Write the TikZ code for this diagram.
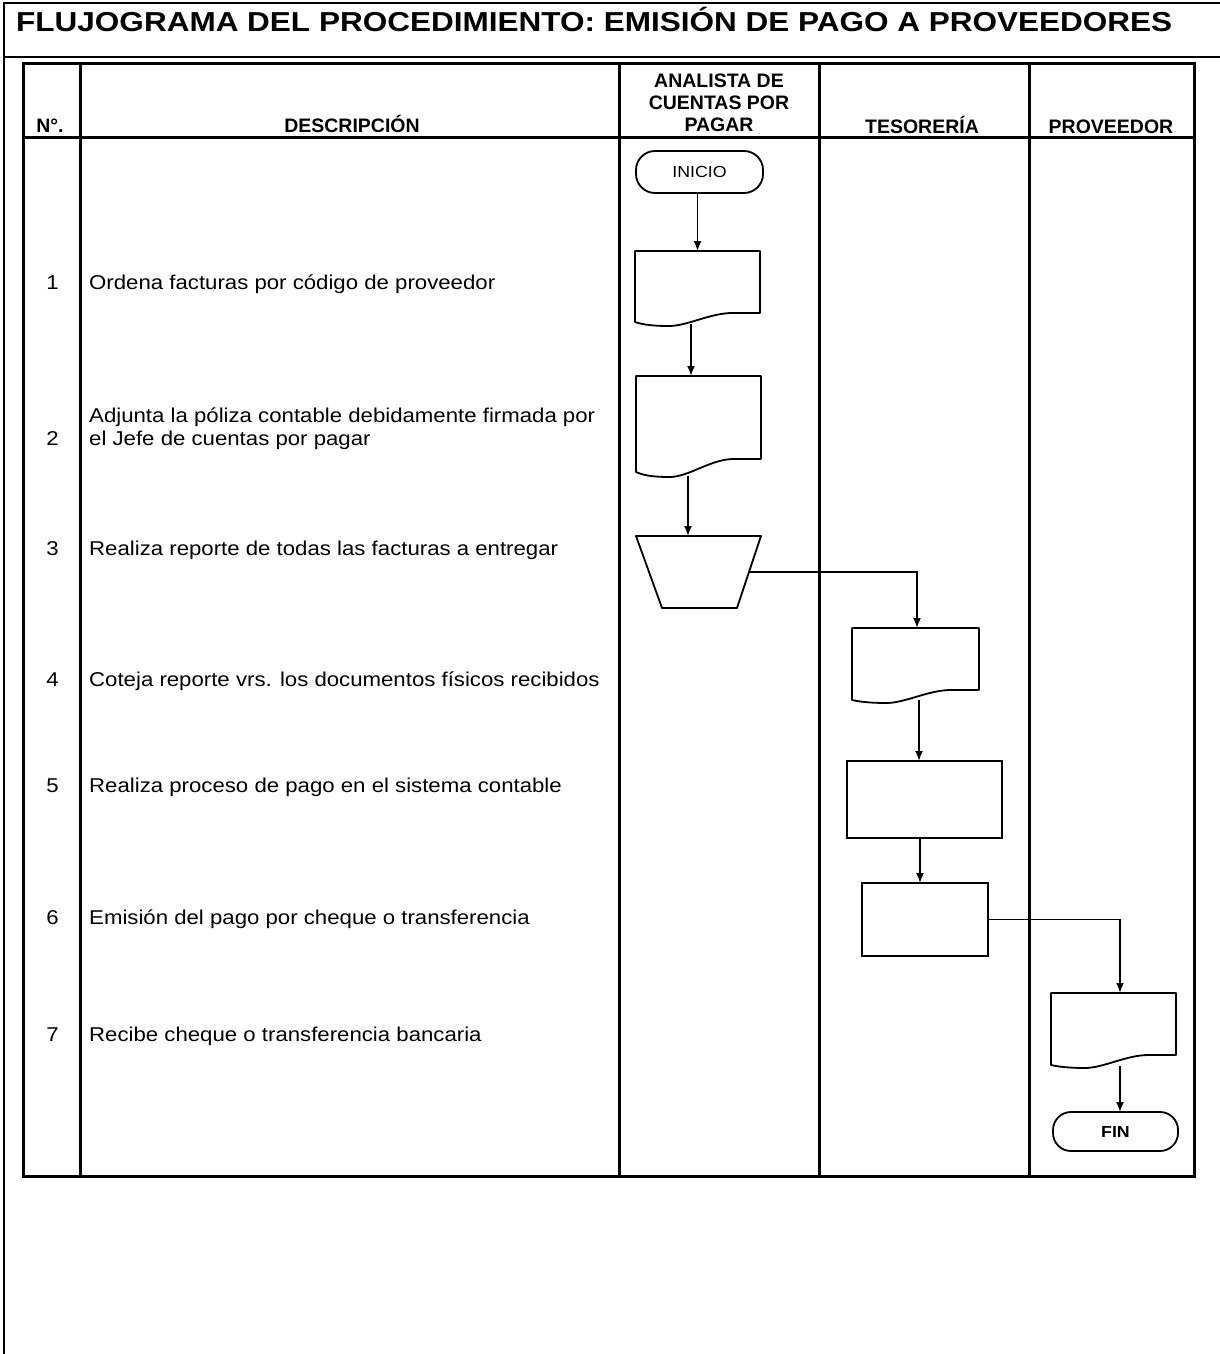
\documentclass[tikz,border=0pt]{standalone}
\usepackage{fontspec}
\setmainfont{Liberation Sans}
\newfontfamily\titlefont[FakeStretch=1.15]{Liberation Sans}
\newfontfamily\descfont[FakeStretch=1.11]{Liberation Sans}
\usetikzlibrary{calc,arrows.meta}

% Outline of a document symbol over a blank node: #1 node, #2 lift of the
% left bottom corner, #3 lift of the right bottom corner.
\newcommand\docoutline[3]{%
  \draw[outline] (#1.north west) -- (#1.north east) -- ($(#1.south east)+(0,-#3)$)
    -- ($(#1.south west)!0.78!(#1.south east)+(0,-#3)$)
    .. controls ($(#1.south west)!0.6!(#1.south east)+(0,-#3)$)
            and ($(#1.south west)!0.42!(#1.south east)$)
    .. ($(#1.south west)!0.27!(#1.south east)$)
    .. controls ($(#1.south west)!0.16!(#1.south east)$)
            and ($(#1.south west)!0.07!(#1.south east)+(0,-1)$)
    .. ($(#1.south west)+(0,-#2)$) -- cycle;}

\begin{document}
\begin{tikzpicture}[x=1pt,y=-1pt,
  grid/.style={line width=3pt},
  frame/.style={line width=1.5pt},
  outline/.style={line width=1.8pt, line join=round},
  blank/.style={inner sep=0pt, outer sep=0pt},
  shp/.style={draw, line width=1.8pt, inner sep=0pt, outer sep=0pt},
  conn/.style={line width=1.8pt, -{Latex[length=10pt,width=8pt]}},
  hdr/.style={font=\bfseries\fontsize{19.5}{21.5}\selectfont, inner sep=0pt, anchor=base},
  num/.style={font=\descfont\fontsize{20}{24}\selectfont, inner sep=0pt, anchor=base},
  desc/.style={font=\descfont\fontsize{20}{24}\selectfont, inner sep=0pt, anchor=base west},
  term/.style={shp, rounded corners=19pt}
]
\useasboundingbox (0,0) rectangle (1220,1354);

% page frame and title band
\draw[frame] (1220,3) -- (4,3) -- (4,1354);
\draw[frame] (4,57) -- (1220,57);
\node[inner sep=0pt, anchor=base west, font=\titlefont\bfseries\fontsize{27.4}{30}\selectfont]
  (title) at (16,32) {FLUJOGRAMA DEL PROCEDIMIENTO: EMISIÓN DE PAGO A PROVEEDORES};

% table grid
\draw[grid] (23,64) rectangle (1194,1176);
\draw[grid] (23,137.5) -- (1194,137.5);
\foreach \x in {80.5,619.5,819,1029} \draw[grid] (\x,64) -- (\x,1176);

% column headings
\node[hdr] (hnum) at (50,132) {N°.};
\node[hdr] (hdesc) at (352,132) {DESCRIPCIÓN};
\node[hdr] (hana1) at (719,88) {ANALISTA DE};
\node[hdr] (hana2) at (719,109.5) {CUENTAS POR};
\node[hdr] (hana3) at (719,131) {PAGAR};
\node[hdr] (htes) at (922,133) {TESORERÍA};
\node[hdr] (hprov) at (1111,133) {PROVEEDOR};

% step numbers and descriptions
\node[num] (n1) at (52.5,289) {1};
\node[desc] (d1) at (89,289) {Ordena facturas por código de proveedor};
\node[num] (n2) at (52.5,445) {2};
\node[desc] (d2a) at (89,422) {Adjunta la póliza contable debidamente firmada por};
\node[desc] (d2b) at (89,445) {el Jefe de cuentas por pagar};
\node[num] (n3) at (52.5,555) {3};
\node[desc] (d3) at (89,555) {Realiza reporte de todas las facturas a entregar};
\node[num] (n4) at (52.5,686) {4};
\node[desc] (d4) at (89,686) {Coteja reporte vrs. los documentos físicos recibidos};
\node[num] (n5) at (52.5,792) {5};
\node[desc] (d5) at (89,792) {Realiza proceso de pago en el sistema contable};
\node[num] (n6) at (52.5,924) {6};
\node[desc] (d6) at (89,924) {Emisión del pago por cheque o transferencia};
\node[num] (n7) at (52.5,1041) {7};
\node[desc] (d7) at (89,1041) {Recibe cheque o transferencia bancaria};

% flow symbols
\node[term, minimum width=127pt, minimum height=42pt,
  font=\descfont\fontsize{16}{18}\selectfont] (inicio) at (699.5,172) {INICIO};
\node[blank, minimum width=125pt, minimum height=75pt] (doc1) at (697.5,288.5) {};
\docoutline{doc1}{4}{13}
\node[blank, minimum width=125pt, minimum height=101pt] (doc2) at (698.5,426.5) {};
\docoutline{doc2}{5}{18}
\node[blank, minimum width=125pt, minimum height=72pt] (trap) at (698.5,572) {};
\draw[outline] (trap.north west) -- (trap.north east) -- ($(trap.south east)+(-24,0)$)
  -- ($(trap.south west)+(26,0)$) -- cycle;
\coordinate (trapR) at ($(trap.north east)!0.5!(trap.south east)+(-12,0)$);
\node[blank, minimum width=127pt, minimum height=75pt] (doc3) at (915.5,665.5) {};
\docoutline{doc3}{3}{13}
\node[shp, minimum width=155pt, minimum height=77pt] (rect5) at (924.5,799.5) {};
\node[shp, minimum width=126pt, minimum height=73pt] (rect6) at (925,919.5) {};
\node[blank, minimum width=125pt, minimum height=75pt] (doc4) at (1113.5,1030.5) {};
\docoutline{doc4}{3}{13}
\node[term, rounded corners=18pt, minimum width=125pt, minimum height=39pt,
  font=\descfont\bfseries\fontsize{16}{18}\selectfont] (fin) at (1115.5,1131.5) {FIN};

% connectors
\draw[conn] (inicio.south -| doc1.north) -- (doc1.north);
\draw[conn] ($(doc1.south)+(-6.5,-2)$) coordinate (s12) -- (s12 |- doc2.north);
\draw[conn] ($(doc2.south)+(-10.5,-1.5)$) coordinate (s23) -- (s23 |- trap.north);
\draw[conn] (trapR) -| ($(doc3.north)+(1.5,0)$);
\draw[conn] ($(doc3.south)+(3.5,-3)$) coordinate (s45) -- (s45 |- rect5.north);
\draw[conn] ($(rect5.south)+(-4.5,0)$) coordinate (s56) -- (s56 |- rect6.north);
\draw[conn] (rect6.east) -| ($(doc4.north)+(6.5,0)$);
\draw[conn] ($(doc4.south)+(6.5,-2)$) coordinate (s7f) -- (s7f |- fin.north);
\end{tikzpicture}
\end{document}
